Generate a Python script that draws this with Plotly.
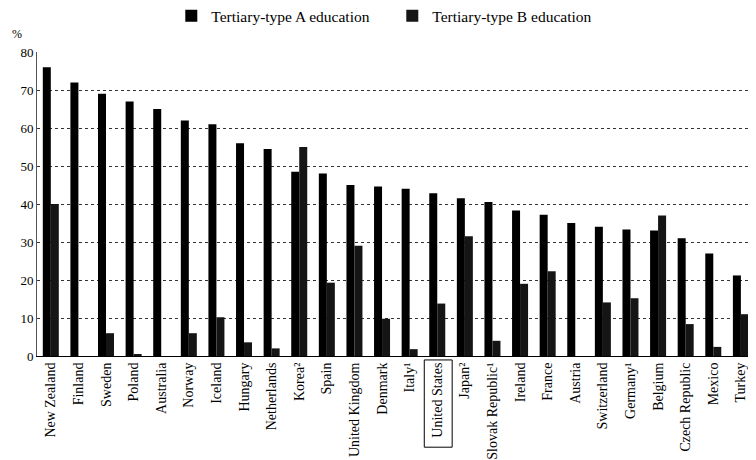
import plotly.graph_objects as go

countries = ["New Zealand", "Finland", "Sweden", "Poland", "Australia", "Norway", "Iceland",
             "Hungary", "Netherlands", "Korea²", "Spain", "United Kingdom", "Denmark", "Italy¹",
             "United States", "Japan²", "Slovak Republic¹", "Ireland", "France", "Austria",
             "Switzerland", "Germany¹", "Belgium", "Czech Republic", "Mexico", "Turkey"]
type_a = [76, 72, 69, 67, 65, 62, 61, 56, 54.5, 48.5, 48, 45, 44.6, 44, 42.8, 41.5, 40.5,
          38.3, 37.2, 35, 34, 33.3, 33, 31, 27, 21.2]
type_b = [40, 0, 6, 0.5, 0, 6, 10.2, 3.6, 2, 55, 19.3, 29, 9.8, 1.8, 13.8, 31.5, 4, 19,
          22.3, 0, 14.1, 15.2, 37, 8.4, 2.4, 11]
y_ticks = [0, 10, 20, 30, 40, 50, 60, 70, 80]

font_family = "Liberation Serif, DejaVu Serif, serif"

fig = go.Figure()
fig.add_trace(go.Bar(x=countries, y=type_a, name="Tertiary-type A education",
                     marker=dict(color="#000000", line=dict(width=0))))
fig.add_trace(go.Bar(x=countries, y=type_b, name="Tertiary-type B education",
                     marker=dict(color="#151515", line=dict(width=0))))

us_idx = countries.index("United States")
fig.add_shape(type="rect", xref="x", yref="paper",
              x0=us_idx - 0.47, x1=us_idx + 0.54, y0=-0.30, y1=-0.013,
              line=dict(color="black", width=1))
fig.add_annotation(text="%", xref="paper", yref="paper", x=-0.038, y=1.058,
                   xanchor="left", yanchor="middle", showarrow=False,
                   font=dict(family=font_family, size=12, color="black"))

fig.update_layout(
    width=756, height=460,
    margin=dict(l=29, r=14, t=44, b=112, autoexpand=False),
    paper_bgcolor="white", plot_bgcolor="white",
    barmode="group", bargap=0.42, bargroupgap=0,
    font=dict(family=font_family, size=12, color="black"),
    legend=dict(orientation="h", x=0.216, xanchor="left", xref="container",
                y=0.982, yanchor="middle", yref="container",
                font=dict(family=font_family, size=15.5, color="black"),
                entrywidth=176, entrywidthmode="pixels",
                itemwidth=30, traceorder="normal"),
    showlegend=True,
)
fig.update_xaxes(type="category", tickangle=-90, showline=True, linecolor="black",
                 linewidth=1, ticks="", tickfont=dict(size=14, family=font_family),
                 mirror=False, automargin=False, range=[-0.5, 25.33])
fig.update_yaxes(range=[0, 80], tickvals=y_ticks, showgrid=True, gridcolor="#333333",
                 griddash="dot", gridwidth=1, showline=True, linecolor="#555555",
                 linewidth=1, mirror=True, ticks="", zeroline=False, automargin=False,
                 tickfont=dict(size=13, family=font_family))

fig.write_html("out.html")
